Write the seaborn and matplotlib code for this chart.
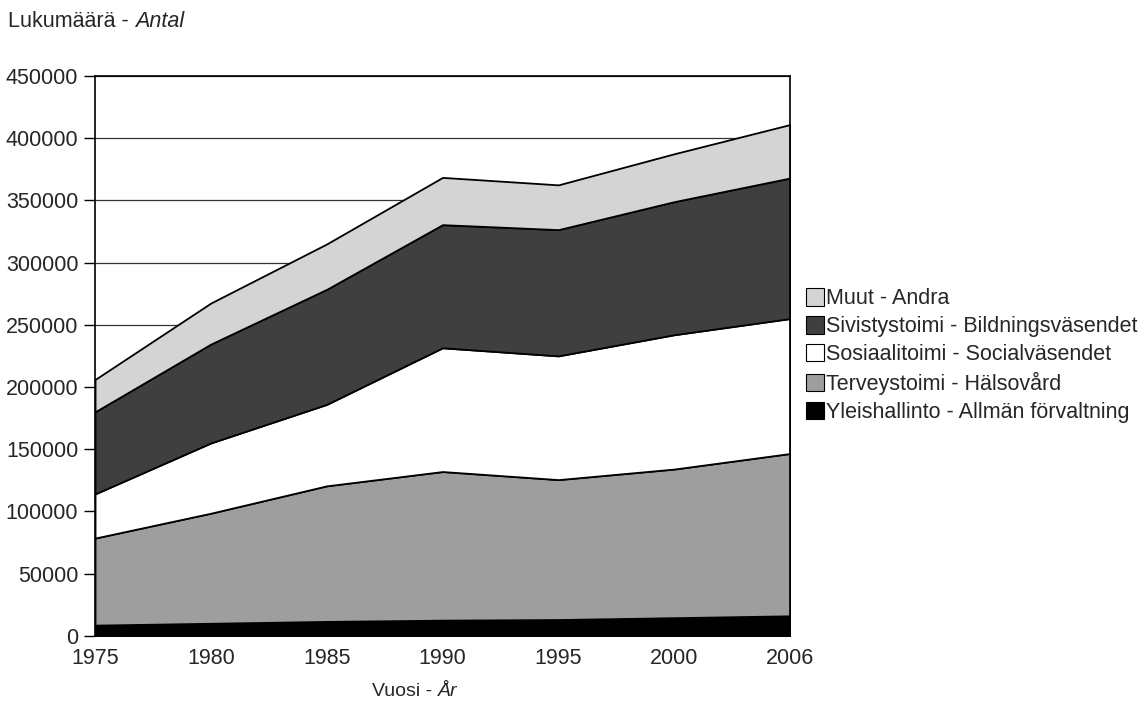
import numpy as np
import pandas as pd
import seaborn as sns
import matplotlib.pyplot as plt
from matplotlib.patches import Patch

# Data
years = ["1975", "1980", "1985", "1990", "1995", "2000", "2006"]
yleis = [8500, 10000, 11500, 12500, 13000, 14500, 16000]
terveys = [70000, 88500, 109000, 119500, 112500, 119500, 130500]
sosiaali = [35500, 56500, 65500, 99500, 99500, 108000, 108500]
sivistys = [66000, 79500, 92500, 99000, 101500, 107000, 113000]
muut = [26000, 33000, 36500, 38000, 36000, 38500, 43000]

labels = ["Yleishallinto - Allmän förvaltning", "Terveystoimi - Hälsovård",
          "Sosiaalitoimi - Socialväsendet", "Sivistystoimi - Bildningsväsendet",
          "Muut - Andra"]
colors = ["#000000", "#9e9e9e", "#ffffff", "#3f3f3f", "#d4d4d4"]

data = pd.DataFrame({"year": years, labels[0]: yleis, labels[1]: terveys,
                     labels[2]: sosiaali, labels[3]: sivistys, labels[4]: muut})

sns.set_theme(style="white")
plt.rcParams["font.family"] = ["Liberation Sans", "DejaVu Sans"]

fig = plt.figure(figsize=(11.45, 7.04), dpi=100)
ax = fig.add_axes([0.083, 0.097, 0.607, 0.795])

x = np.arange(len(years))
ax.stackplot(x, [data[l] for l in labels], colors=colors,
             edgecolor="black", linewidth=1.3, zorder=2)

# Grid lines behind the areas
ax.set_ylim(0, 450000)
ax.set_yticks(range(0, 450001, 50000))
ax.set_yticklabels([str(v) for v in range(0, 450001, 50000)])
ax.yaxis.grid(True, color="#333333", linewidth=0.9, zorder=0)
ax.set_axisbelow(True)

ax.set_xlim(0, len(years) - 1)
ax.set_xticks(x)
ax.set_xticklabels(years)
ax.tick_params(axis="y", which="major", direction="out", length=8, width=1,
               color="black", labelsize=15.5, left=True, pad=4)
ax.tick_params(axis="x", length=0, labelsize=15.5, pad=9)

for s in ax.spines.values():
    s.set_color("black")
    s.set_linewidth(1.2)

# Legend (reverse order)
handles = [Patch(facecolor=c, edgecolor="black", linewidth=0.8) for c in colors]
ax.legend(handles[::-1], labels[::-1], loc="center left",
          bbox_to_anchor=(1.01, 0.50), frameon=False, fontsize=15.5,
          handlelength=0.85, handleheight=0.85, handletextpad=0.1,
          labelspacing=0.32, borderaxespad=0)

# Axis titles with italic Swedish parts
t1 = fig.text(0.007, 0.962, "Lukumäärä - ", fontsize=15.5, va="baseline")
ax.annotate("Antal", xy=(1, 0), xycoords=t1, va="bottom", fontsize=15.5,
            style="italic")
t2 = fig.text(0.325, 0.012, "Vuosi - ", fontsize=14, va="baseline")
ax.annotate("År", xy=(1, 0), xycoords=t2, va="bottom", fontsize=14,
            style="italic")

fig.savefig("out.png", dpi=100)
